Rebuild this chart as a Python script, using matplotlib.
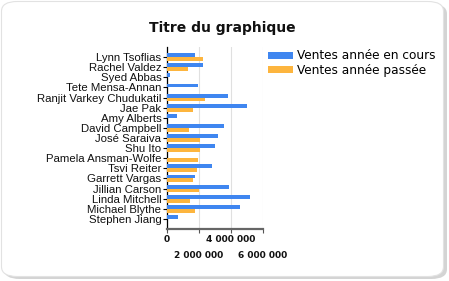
import matplotlib.pyplot as plt
import numpy as np
from matplotlib.patches import FancyBboxPatch, Patch

# Sales people, top to bottom
vendeurs = ['Lynn Tsoflias', 'Rachel Valdez', 'Syed Abbas', 'Tete Mensa-Annan',
            'Ranjit Varkey Chudukatil', 'Jae Pak', 'Amy Alberts', 'David Campbell',
            'José Saraiva', 'Shu Ito', 'Pamela Ansman-Wolfe', 'Tsvi Reiter',
            'Garrett Vargas', 'Jillian Carson', 'Linda Mitchell', 'Michael Blythe',
            'Stephen Jiang']
ventes_en_cours = [1758000, 2241000, 172000, 1932000, 3828000, 5016000, 636000,
                   3587000, 3189000, 3019000, 0, 2811000, 1765000, 3857000,
                   5200000, 4557000, 678000]
ventes_passee = [2279000, 1308000, 0, 0, 2397000, 1636000, 0, 1372000,
                 2038000, 2074000, 1927000, 1850000, 1620000, 1997000,
                 1439000, 1750000, 0]
ticks_x = [0, 2000000, 4000000, 6000000]

bleu = '#3f86f0'
orange = '#fdb53e'

fig = plt.figure(figsize=(4.49, 2.81), dpi=100)
fig.patch.set_facecolor('white')

# rounded panel with a soft shadow
shadow = FancyBboxPatch((4 / 449, 2 / 281), 443 / 449, 275 / 281,
                        boxstyle='round,pad=0,rounding_size=0.035',
                        transform=fig.transFigure, facecolor='#d4d4d4',
                        edgecolor='none', zorder=0)
panel = FancyBboxPatch((1.5 / 449, 4.5 / 281), 442 / 449, 275 / 281,
                       boxstyle='round,pad=0,rounding_size=0.035',
                       transform=fig.transFigure, facecolor='white',
                       edgecolor='#e2e2e2', linewidth=0.8, zorder=1)
fig.patches.extend([shadow, panel])

ax = fig.add_axes([167 / 449, 1 - 229 / 281, 96 / 449, 182 / 281])
ax.set_facecolor('none')
ax.set_zorder(2)

y = np.arange(len(vendeurs))
h = 0.38
ax.barh(y - h / 2, ventes_en_cours, height=h, color=bleu, zorder=3)
ax.barh(y + h / 2, ventes_passee, height=h, color=orange, zorder=3)

ax.set_ylim(len(vendeurs), -1)
ax.set_xlim(0, 6000000)
ax.set_yticks(y)
ax.set_yticklabels(vendeurs, fontsize=8.2, family='Liberation Sans', color='#111111')
ax.tick_params(axis='y', length=3, width=0.8, pad=1)

ax.set_xticks(ticks_x)
ax.set_xticklabels([f'{v:,}'.replace(',', ' ') for v in ticks_x],
                   fontsize=6.5, fontweight='bold', color='#111111')
ax.tick_params(axis='x', length=3, width=0.8, color='#555555')
# staggered labels: every other one drops to a second row
for i, t in enumerate(ax.xaxis.get_major_ticks()):
    t.set_pad(1.5 if i % 2 == 0 else 13)

ax.grid(axis='x', color='#e0e0e0', linewidth=0.8, zorder=0)
for s in ['top', 'right']:
    ax.spines[s].set_visible(False)
ax.spines['left'].set_linewidth(0.9)
ax.spines['bottom'].set_color('#666666')
ax.spines['bottom'].set_linewidth(1.6)

fig.text(222 / 449, 1 - 28 / 281, 'Titre du graphique', ha='center', va='center',
         fontsize=10, fontweight='bold', color='#111111', zorder=3)

handles = [Patch(facecolor=bleu), Patch(facecolor=orange)]
fig.legend(handles, ['Ventes année en cours', 'Ventes année passée'],
           loc='upper left', bbox_to_anchor=(260 / 449, 1 - 41 / 281),
           frameon=False, fontsize=8.7, handlelength=2.0, handleheight=0.55,
           handletextpad=0.4, labelspacing=0.1, borderpad=0.2)

fig.savefig('out.png', dpi=100, facecolor='white')
